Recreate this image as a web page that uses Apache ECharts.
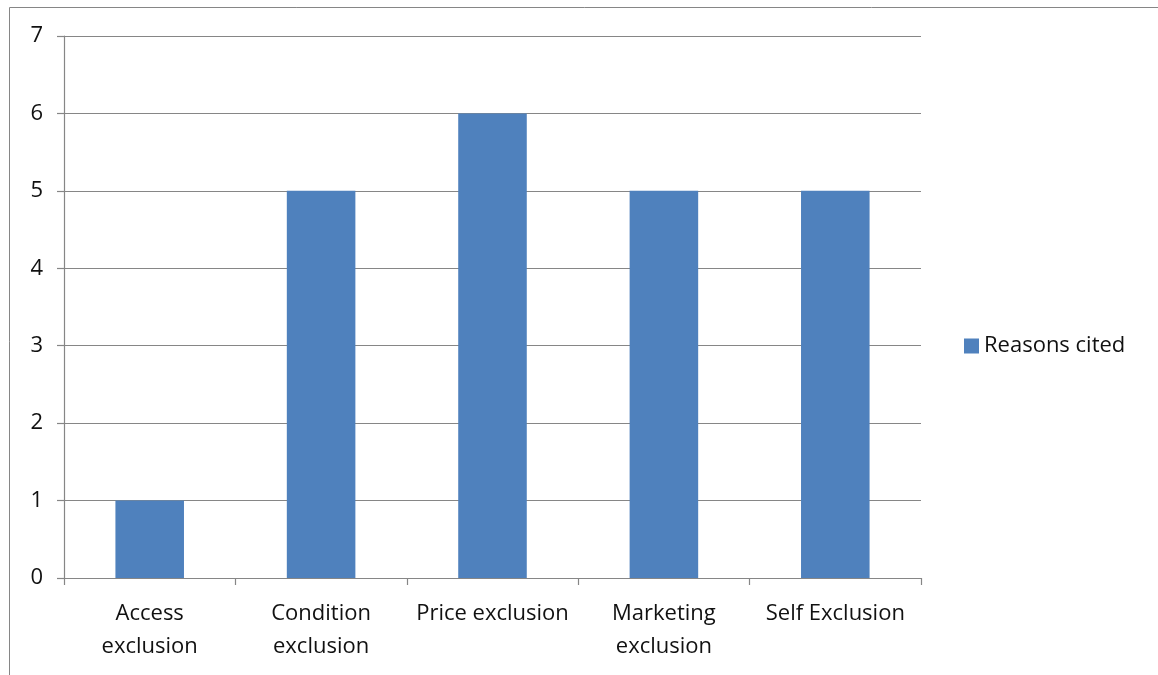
<!DOCTYPE html>
<html><head><meta charset="utf-8">
<script src="https://cdn.jsdelivr.net/npm/echarts@6/dist/echarts.min.js"></script>
<style>html,body{margin:0;padding:0;background:#fff}#c{width:1158px;height:675px}</style>
</head><body><div id="c"></div>
<script>
var categories = ['Access\nexclusion', 'Condition\nexclusion', 'Price exclusion', 'Marketing\nexclusion', 'Self Exclusion'];
var values = [1, 5, 6, 5, 5];
var seriesName = 'Reasons cited';
var FONT = 'Open Sans';
var chart = echarts.init(document.getElementById('c'));
chart.setOption({
  animation: false,
  backgroundColor: '#fff',
  textStyle: {fontFamily: FONT},
  graphic: [{type: 'rect', shape: {x: 9.5, y: 7.5, width: 1200, height: 700}, style: {fill: 'none', stroke: '#868686', lineWidth: 1}}],
  grid: {left: 64, right: 237, top: 36, bottom: 97, containLabel: false},
  legend: {orient: 'vertical', left: 959, top: 330, itemWidth: 15, itemHeight: 15, itemGap: 6,
    icon: 'rect', textStyle: {fontSize: 22, color: '#111', fontFamily: FONT}, data: [seriesName]},
  xAxis: {type: 'category', data: categories,
    axisLine: {lineStyle: {color: '#868686', width: 1.2}},
    axisTick: {show: true, length: 7, lineStyle: {color: '#868686', width: 1.2}},
    axisLabel: {color: '#111', fontSize: 22, lineHeight: 33, margin: 19, fontFamily: FONT, interval: 0}},
  yAxis: {type: 'value', min: 0, max: 7, interval: 1,
    axisLine: {show: true, lineStyle: {color: '#868686', width: 1.2}},
    axisTick: {show: true, length: 7, lineStyle: {color: '#868686', width: 1.2}},
    splitLine: {lineStyle: {color: '#868686', width: 1.2}},
    axisLabel: {color: '#111', fontSize: 22, margin: 21, fontFamily: FONT}},
  series: [{name: seriesName, type: 'bar', data: values, barWidth: '40%', itemStyle: {color: '#4F81BD'}}]
});
</script></body></html>
